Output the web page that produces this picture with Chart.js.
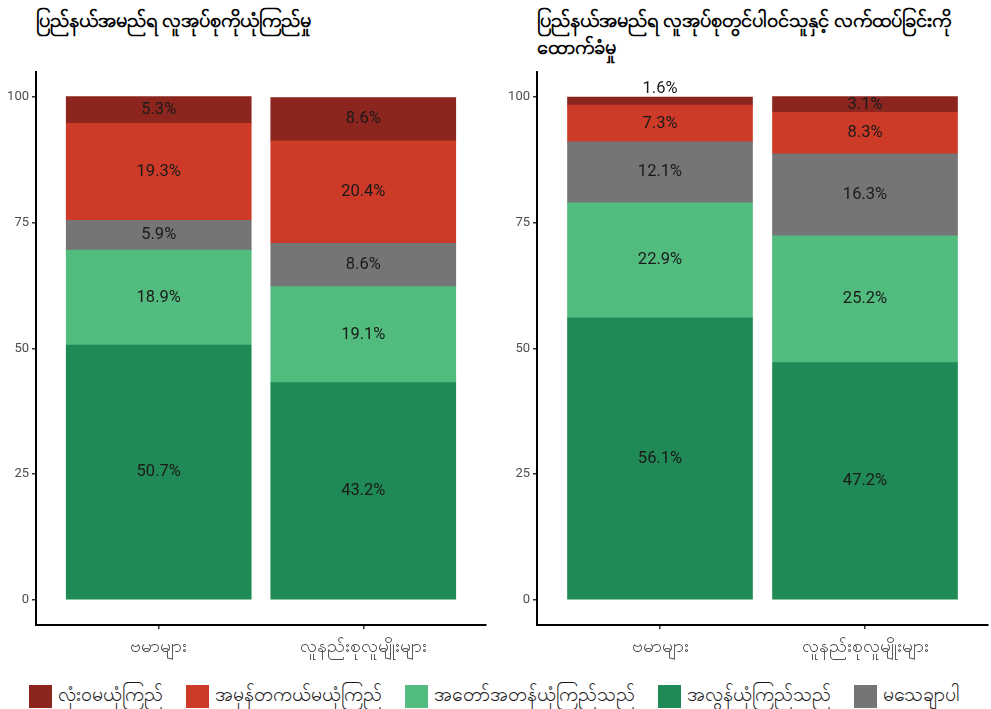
<!DOCTYPE html>
<html>
<head>
<meta charset="utf-8">
<script src="https://cdn.jsdelivr.net/npm/chart.js@4.4.1/dist/chart.umd.min.js"></script>
<style>
  body { margin: 0; background: #fff; font-family: Roboto, "Noto Sans", sans-serif; }
  #wrap { position: relative; width: 991px; height: 709px; overflow: hidden; }
  .title { position: absolute; font-size: 20px; font-weight: bold; color: #000; line-height: 27px; }
  canvas { position: absolute; }
  #legend { position: absolute; left: 29px; top: 682px; display: flex; font-size: 19.5px; color: #1a1a1a; }
  .item { display: flex; align-items: center; margin-right: 23px; }
  .sw { width: 23px; height: 23px; margin-right: 6px; }
</style>
</head>
<body>
<div id="wrap">
  <div class="title" style="left:36px; top:7px;">ပြည်နယ်အမည်ရ လူအုပ်စုကိုယုံကြည်မှု</div>
  <div class="title" style="left:537px; top:7px;">ပြည်နယ်အမည်ရ လူအုပ်စုတွင်ပါဝင်သူနှင့် လက်ထပ်ခြင်းကို<br>ထောက်ခံမှု</div>
  <canvas id="c1" width="495" height="671" style="left:0; top:0;"></canvas>
  <canvas id="c2" width="490" height="671" style="left:501px; top:0;"></canvas>
  <div id="legend"></div>
</div>
<script>
// ကဏ္ဍများ
const categories = ["ဗမာများ", "လူနည်းစုလူမျိုးများ"];
const seriesNames = ["အလွန်ယုံကြည်သည်", "အတော်အတန်ယုံကြည်သည်", "မသေချာပါ", "အမှန်တကယ်မယုံကြည်", "လုံးဝမယုံကြည်"];
const seriesColors = ["#1f8a55", "#52bc7f", "#757575", "#cd3a28", "#8b251e"];
const legendOrder = [4, 3, 1, 0, 2];
const yTicks = [0, 25, 50, 75, 100];

// ယုံကြည်မှု (ဘယ်)
const trustVeryMuch = [50.7, 43.2];
const trustSomewhat = [18.9, 19.1];
const trustNotSure = [5.9, 8.6];
const trustNotReally = [19.3, 20.4];
const trustNotAtAll = [5.3, 8.6];

// လက်ထပ်ခြင်း ထောက်ခံမှု (ညာ)
const marryVeryMuch = [56.1, 47.2];
const marrySomewhat = [22.9, 25.2];
const marryNotSure = [12.1, 16.3];
const marryNotReally = [7.3, 8.3];
const marryNotAtAll = [1.6, 3.1];

const labelPlugin = {
  id: "segLabels",
  afterDatasetsDraw(chart) {
    const ctx = chart.ctx;
    ctx.save();
    ctx.font = "16.5px Roboto";
    ctx.fillStyle = "#1a1a1a";
    ctx.textAlign = "center";
    ctx.textBaseline = "middle";
    chart.data.datasets.forEach((ds, i) => {
      chart.getDatasetMeta(i).data.forEach((bar, j) => {
        const v = ds.data[j].y;
        let y = (bar.y + bar.base) / 2;
        // သေးလွန်းရင် အပေါ်မှာ
        if (Math.abs(bar.base - bar.y) < 10) y = bar.y - 8;
        ctx.fillText(v.toFixed(1) + "%", bar.x, y);
      });
    });
    ctx.restore();
  }
};

function makeChart(id, values, padRight) {
  const datasets = values.map((arr, i) => ({
    label: seriesNames[i],
    data: arr.map((v, j) => ({ x: j + 1, y: v })),
    backgroundColor: seriesColors[i],
    barThickness: 185
  }));
  return new Chart(document.getElementById(id), {
    type: "bar",
    data: { datasets },
    plugins: [labelPlugin],
    options: {
      responsive: false,
      animation: false,
      layout: { padding: { top: 72, right: padRight, bottom: 0, left: 0 } },
      plugins: { legend: { display: false }, tooltip: { enabled: false } },
      scales: {
        x: {
          type: "linear", stacked: true, min: 0.4, max: 2.6, offset: false,
          afterBuildTicks(s) { s.ticks = [{ value: 1 }, { value: 2 }]; },
          afterFit(s) { s.height = 46; },
          ticks: { callback: v => categories[v - 1], color: "#4d4d4d", font: { size: 18.5 }, padding: 7, maxRotation: 0 },
          grid: { offset: false, drawOnChartArea: false, drawTicks: true, tickLength: 4, color: "#333", lineWidth: 1.5 },
          border: { display: true, color: "#000", width: 2 }
        },
        y: {
          stacked: true, min: -5, max: 105,
          afterBuildTicks(s) { s.ticks = yTicks.map(v => ({ value: v })); },
          afterFit(s) { s.width = 36; },
          ticks: { color: "#4d4d4d", font: { size: 13, family: "Roboto" }, padding: 3 },
          grid: { drawOnChartArea: false, drawTicks: true, tickLength: 4, color: "#333", lineWidth: 1.5 },
          border: { display: true, color: "#000", width: 2 }
        }
      }
    }
  });
}

makeChart("c1", [trustVeryMuch, trustSomewhat, trustNotSure, trustNotReally, trustNotAtAll], 9);
makeChart("c2", [marryVeryMuch, marrySomewhat, marryNotSure, marryNotReally, marryNotAtAll], 3);

const legend = document.getElementById("legend");
legendOrder.forEach(i => {
  const d = document.createElement("div");
  d.className = "item";
  d.innerHTML = `<span class="sw" style="background:${seriesColors[i]}"></span><span>${seriesNames[i]}</span>`;
  legend.appendChild(d);
});
</script>
</body>
</html>
